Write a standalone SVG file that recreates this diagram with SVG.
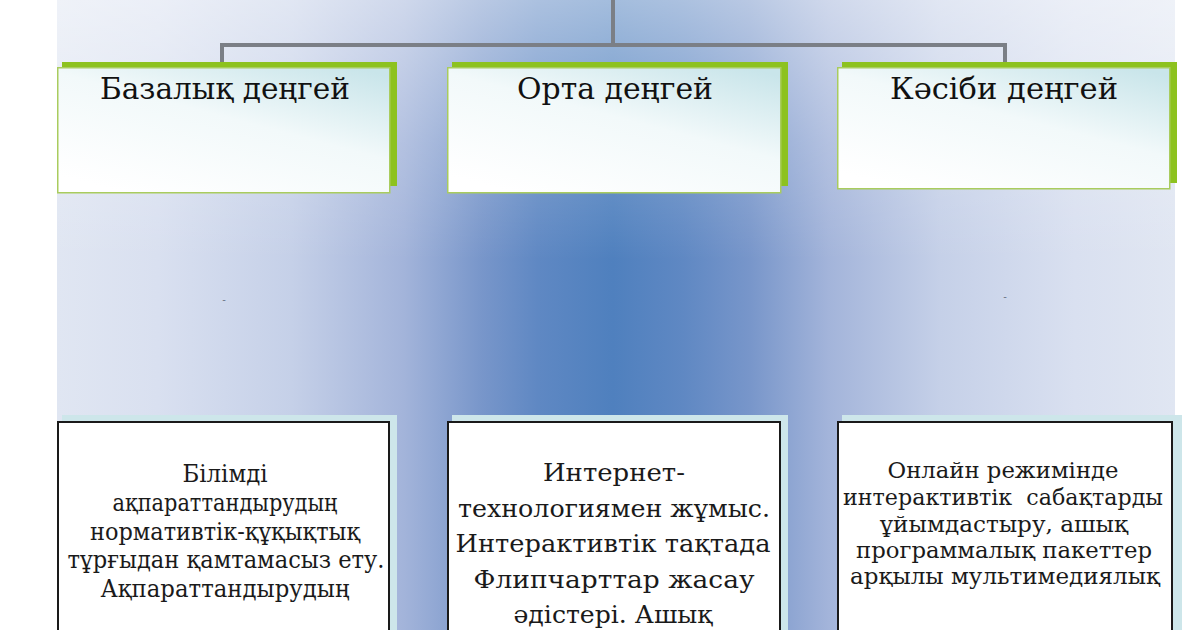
<svg xmlns="http://www.w3.org/2000/svg" width="1200" height="630" viewBox="0 0 1200 630">
<defs>
  <linearGradient id="bgH" gradientUnits="userSpaceOnUse" x1="57" y1="0" x2="1175" y2="0">
    <stop offset="0" stop-color="#e0e6f2"/>
    <stop offset="0.09" stop-color="#d9e0f0"/>
    <stop offset="0.21" stop-color="#c5d0e8"/>
    <stop offset="0.31" stop-color="#a3b4da"/>
    <stop offset="0.38" stop-color="#7896ca"/>
    <stop offset="0.43" stop-color="#5f88c3"/>
    <stop offset="0.497" stop-color="#4f80be"/>
    <stop offset="0.56" stop-color="#5f88c3"/>
    <stop offset="0.62" stop-color="#7896ca"/>
    <stop offset="0.69" stop-color="#a3b4da"/>
    <stop offset="0.79" stop-color="#c5d0e8"/>
    <stop offset="0.91" stop-color="#d9e0f0"/>
    <stop offset="1" stop-color="#e0e6f2"/>
  </linearGradient>
  <linearGradient id="bgV" gradientUnits="userSpaceOnUse" x1="0" y1="0" x2="0" y2="260">
    <stop offset="0" stop-color="#ffffff" stop-opacity="0.48"/>
    <stop offset="0.55" stop-color="#ffffff" stop-opacity="0.18"/>
    <stop offset="1" stop-color="#ffffff" stop-opacity="0"/>
  </linearGradient>
  <linearGradient id="boxFill" x1="0.2" y1="1" x2="0.9" y2="0">
    <stop offset="0" stop-color="#ffffff"/>
    <stop offset="0.55" stop-color="#f2f9fa"/>
    <stop offset="1" stop-color="#c9e5ea"/>
  </linearGradient>
  <style>
    .conn { stroke: #7b7f86; stroke-width: 4; fill: none; }
    .green { fill: #8dc21f; }
    .head { fill: url(#boxFill); stroke: #a9cc5e; stroke-width: 1.5; }
    .shadow { fill: #cde6ea; }
    .body { fill: #ffffff; stroke: #1a1a1a; stroke-width: 2; }
    .title { font-family: "DejaVu Serif", "Liberation Serif", serif; font-size: 30px; fill: #111111; text-anchor: middle; }
    .txt { font-family: "DejaVu Serif", "Liberation Serif", serif; fill: #1a1a1a; text-anchor: middle; }
    .dash { font-family: "DejaVu Sans", sans-serif; font-size: 10px; fill: #6d7486; text-anchor: middle; }
  </style>
</defs>

<rect x="0" y="0" width="1200" height="630" fill="#ffffff"/>
<rect x="57" y="0" width="1118" height="630" fill="url(#bgH)"/>
<rect x="57" y="0" width="1118" height="260" fill="url(#bgV)"/>

<g id="connectors">
  <path class="conn" d="M613 0 V45"/>
  <path class="conn" d="M222 63 V45 H1005 V63"/>
</g>

<g id="node-basal">
  <rect class="green" x="62" y="62" width="335" height="124"/>
  <rect class="head" x="57.75" y="67.75" width="332" height="125"/>
  <text class="title" x="225" y="99" textLength="250" lengthAdjust="spacingAndGlyphs">Базалық деңгей</text>
</g>
<g id="node-orta">
  <rect class="green" x="452" y="62" width="336" height="124"/>
  <rect class="head" x="447.75" y="67.75" width="333" height="125"/>
  <text class="title" x="615" y="99" textLength="196" lengthAdjust="spacingAndGlyphs">Орта деңгей</text>
</g>
<g id="node-kasibi">
  <rect class="green" x="842" y="62" width="335" height="121"/>
  <rect class="head" x="837.75" y="67.75" width="332" height="121"/>
  <text class="title" x="1004" y="99" textLength="228" lengthAdjust="spacingAndGlyphs">Кәсіби деңгей</text>
</g>

<text class="dash" x="224" y="303">-</text>
<text class="dash" x="1005" y="300">-</text>

<g id="node-basal-desc">
  <rect class="shadow" x="62" y="415" width="335" height="215"/>
  <rect class="body" x="58" y="422" width="331" height="220"/>
  <text class="txt" font-size="24" x="225" y="482" textLength="85" lengthAdjust="spacingAndGlyphs">Білімді</text>
  <text class="txt" font-size="24" x="225" y="511" textLength="225" lengthAdjust="spacingAndGlyphs">ақпараттандырудың</text>
  <text class="txt" font-size="24" x="225" y="540" textLength="270" lengthAdjust="spacingAndGlyphs">нормативтік-құқықтық</text>
  <text class="txt" font-size="24" x="226" y="568" textLength="317" lengthAdjust="spacingAndGlyphs">тұрғыдан қамтамасыз ету.</text>
  <text class="txt" font-size="24" x="225" y="597" textLength="249" lengthAdjust="spacingAndGlyphs">Ақпараттандырудың</text>
</g>
<g id="node-orta-desc">
  <rect class="shadow" x="452" y="415" width="336" height="215"/>
  <rect class="body" x="448" y="422" width="332" height="220"/>
  <text class="txt" font-size="25" x="614" y="481" textLength="142" lengthAdjust="spacingAndGlyphs">Интернет-</text>
  <text class="txt" font-size="25" x="614" y="517" textLength="312" lengthAdjust="spacingAndGlyphs">технологиямен жұмыс.</text>
  <text class="txt" font-size="25" x="613" y="552" textLength="315" lengthAdjust="spacingAndGlyphs">Интерактивтік тақтада</text>
  <text class="txt" font-size="25" x="614" y="588" textLength="281" lengthAdjust="spacingAndGlyphs">Флипчарттар жасау</text>
  <text class="txt" font-size="25" x="613" y="623" textLength="199" lengthAdjust="spacingAndGlyphs">әдістері. Ашық</text>
</g>
<g id="node-kasibi-desc">
  <rect class="shadow" x="842" y="415" width="340" height="215"/>
  <rect class="body" x="838" y="422" width="334" height="220"/>
  <text class="txt" font-size="22.5" x="1003" y="478" textLength="231" lengthAdjust="spacingAndGlyphs">Онлайн режимінде</text>
  <text class="txt" font-size="22.5" x="1003" y="505" textLength="320" lengthAdjust="spacingAndGlyphs" xml:space="preserve">интерактивтік  сабақтарды</text>
  <text class="txt" font-size="22.5" x="1004" y="532" textLength="248" lengthAdjust="spacingAndGlyphs">ұйымдастыру, ашық</text>
  <text class="txt" font-size="22.5" x="1004" y="558" textLength="296" lengthAdjust="spacingAndGlyphs">программалық пакеттер</text>
  <text class="txt" font-size="22.5" x="1005" y="584" textLength="310" lengthAdjust="spacingAndGlyphs">арқылы мультимедиялық</text>
</g>
</svg>
